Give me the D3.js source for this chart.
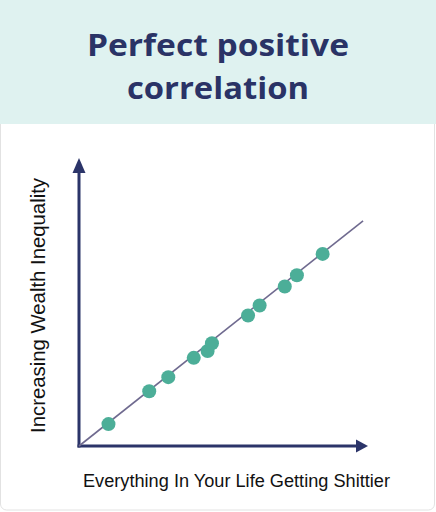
<!DOCTYPE html>
<html>
<head>
<meta charset="utf-8">
<script src="https://cdn.jsdelivr.net/npm/d3@7/dist/d3.min.js"></script>
<style>
  html, body { margin: 0; padding: 0; background: #ffffff; }
  svg { display: block; }
</style>
</head>
<body>
<svg id="chart" width="436" height="512"></svg>
<script>
// ---- data ----
const titleLines = ["Perfect positive", "correlation"];
const xLabel = "Everything In Your Life Getting Shittier";
const yLabel = "Increasing Wealth Inequality";
const pointX = [10.2, 24.3, 30.9, 39.7, 44.5, 46.0, 58.5, 62.5, 71.2, 75.4, 84.3];
const pointY = [7.6, 19.0, 23.9, 30.6, 33.0, 35.7, 45.3, 48.8, 55.4, 59.3, 66.7];
const trendX = [0, 98.3];
const trendY = [0, 78.2];

// ---- drawing ----
const svg = d3.select("#chart");
const W = 436, H = 512;

// card background
svg.append("rect").attr("x", 0.5).attr("y", -10).attr("width", W - 2).attr("height", H - 2 + 10)
  .attr("rx", 6).attr("fill", "#ffffff").attr("stroke", "#e2e2e2").attr("stroke-width", 1);

// header band
svg.append("rect").attr("x", 0).attr("y", 0).attr("width", W).attr("height", 124)
  .attr("fill", "#dff2f0");

const titleWidths = [262, 182];
const title = svg.append("g").attr("fill", "#2a3366")
  .style("font-family", "'Open Sans', 'Noto Sans', sans-serif")
  .style("font-weight", "700").style("font-size", "30px");
titleLines.forEach((t, i) => {
  title.append("text").attr("x", W / 2).attr("y", 56 + i * 43)
    .attr("text-anchor", "middle")
    .attr("textLength", titleWidths[i]).attr("lengthAdjust", "spacingAndGlyphs")
    .text(t);
});

const x = d3.scaleLinear().domain([0, 100]).range([79, 368]);
const y = d3.scaleLinear().domain([0, 100]).range([446, 158]);

const navy = "#2b3469";

// axes
const g = svg.append("g");
g.append("line").attr("x1", x(0)).attr("y1", y(0) + 1.5).attr("x2", x(0)).attr("y2", y(95))
  .attr("stroke", navy).attr("stroke-width", 3);
g.append("line").attr("x1", x(0) - 1.5).attr("y1", y(0)).attr("x2", x(96)).attr("y2", y(0))
  .attr("stroke", navy).attr("stroke-width", 3);
// arrow heads
g.append("path").attr("fill", navy)
  .attr("d", `M${x(0)},${y(100)} L${x(0) - 6.5},${y(100) + 15} L${x(0) + 6.5},${y(100) + 15} Z`);
g.append("path").attr("fill", navy)
  .attr("d", `M${x(100)},${y(0)} L${x(100) - 12},${y(0) - 6.5} L${x(100) - 12},${y(0) + 6.5} Z`);

// trend line
const line = d3.line().x(d => x(d[0])).y(d => y(d[1]));
g.append("path").datum(trendX.map((v, i) => [v, trendY[i]]))
  .attr("d", line).attr("fill", "none").attr("stroke", "#6f6a8f").attr("stroke-width", 1.6);

// points
g.selectAll("circle.pt").data(pointX.map((v, i) => [v, pointY[i]])).enter()
  .append("circle").attr("class", "pt")
  .attr("cx", d => x(d[0])).attr("cy", d => y(d[1])).attr("r", 7)
  .attr("fill", "#4cae98");

// axis labels
svg.append("text").attr("x", 236.5).attr("y", 487).attr("text-anchor", "middle")
  .style("font-family", "'Liberation Sans', Arial, sans-serif").style("font-size", "18px")
  .attr("textLength", 307).attr("lengthAdjust", "spacingAndGlyphs")
  .attr("fill", "#111").text(xLabel);

svg.append("text").attr("transform", "translate(45,305.5) rotate(-90)").attr("text-anchor", "middle")
  .style("font-family", "'Liberation Sans', Arial, sans-serif").style("font-size", "19.5px")
  .attr("textLength", 255).attr("lengthAdjust", "spacingAndGlyphs")
  .attr("fill", "#111").text(yLabel);
</script>
</body>
</html>
